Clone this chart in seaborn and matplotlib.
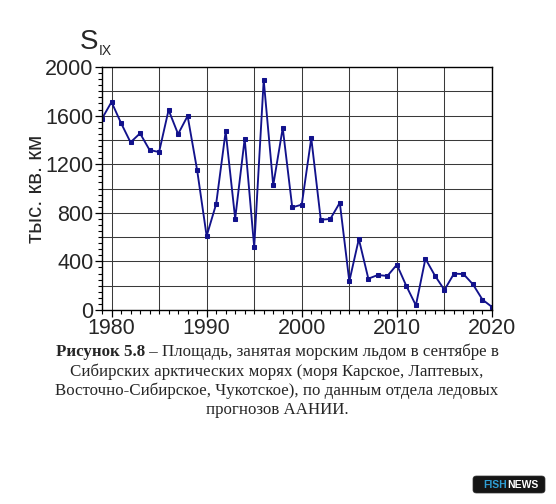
import matplotlib
matplotlib.use("Agg")
import matplotlib.pyplot as plt
from matplotlib.ticker import MultipleLocator, FixedLocator
from matplotlib.patches import FancyBboxPatch
import seaborn as sns
import pandas as pd

# ---- data ----
years = list(range(1979, 2021))
area = [1575, 1712, 1539, 1380, 1454, 1317, 1300, 1646, 1448, 1597,
        1152, 609, 872, 1470, 752, 1410, 518, 1893, 1026, 1498,
        845, 867, 1415, 743, 749, 883, 236, 584, 258, 288,
        280, 373, 197, 38, 422, 283, 165, 299, 296, 211,
        85, 25]
x_ticks = [1980, 1990, 2000, 2010, 2020]
y_ticks = [0, 400, 800, 1200, 1600, 2000]
y_label = "тыс. кв. км"
caption_bold = "Рисунок 5.8"
caption_rest = " – Площадь, занятая морским льдом в сентябре в"
caption_lines = ["Сибирских арктических морях (моря Карское, Лаптевых,",
                 "Восточно-Сибирское, Чукотское), по данным отдела ледовых",
                 "прогнозов ААНИИ."]

df = pd.DataFrame({"year": years, "area": area})

sns.set_style("white")
plt.rcParams['font.family'] = ['Liberation Sans', 'DejaVu Sans']

W, H = 556, 504
fig = plt.figure(figsize=(W / 100, H / 100), dpi=100)
ax = fig.add_axes([102 / W, 1 - 310 / H, (492 - 102) / W, (310 - 67) / H])

line_color = "#12128c"
sns.lineplot(data=df, x="year", y="area", ax=ax, color=line_color,
             linewidth=1.35, marker="s", markersize=3.4,
             markeredgecolor=line_color, markerfacecolor=line_color)

ax.set_xlim(1979, 2020)
ax.set_ylim(0, 2000)

ax.xaxis.set_major_locator(FixedLocator(x_ticks))
ax.xaxis.set_minor_locator(MultipleLocator(1))
ax.yaxis.set_major_locator(FixedLocator(y_ticks))
ax.yaxis.set_minor_locator(MultipleLocator(50))

# grid
for gx in range(1980, 2021, 5):
    ax.axvline(gx, color="#3a3a3a", lw=0.75, zorder=0)
for gy in range(200, 2000, 200):
    ax.axhline(gy, color="#3a3a3a", lw=0.75, zorder=0)

ax.tick_params(axis="both", which="major", direction="out", length=5,
               width=0.9, labelsize=15.5, color="black", pad=1)
ax.tick_params(axis="both", which="minor", direction="out", length=3,
               width=0.8, color="black")
ax.tick_params(bottom=True, left=True, which="both")

for s in ax.spines.values():
    s.set_color("black")
    s.set_linewidth(1.0)

ax.set_xlabel("")
ax.set_ylabel(y_label, fontsize=16)
ax.yaxis.set_label_coords(-0.142, 0.5)

# S_IX title
fig.text(80 / W, 1 - 49 / H, "S", fontsize=20, ha="left", va="baseline")
fig.text(98.5 / W, 1 - 55 / H, "IX", fontsize=10, ha="left", va="baseline")

# caption
cap_size = 12.2
serif = ['Liberation Serif', 'DejaVu Serif']
renderer = fig.canvas.get_renderer()
tb = fig.text(0, 1 - 352 / H, caption_bold, fontsize=cap_size, family=serif,
              weight="bold", ha="left", va="center")
tr = fig.text(0, 1 - 352 / H, caption_rest, fontsize=cap_size, family=serif,
              ha="left", va="center")
wb = tb.get_window_extent(renderer).width
wr = tr.get_window_extent(renderer).width
x0 = 277 - (wb + wr) / 2
tb.set_x(x0 / W)
tr.set_x((x0 + wb) / W)
for i, ln in enumerate(caption_lines):
    fig.text(277 / W, 1 - (371.5 + 19.5 * i) / H, ln, fontsize=cap_size,
             family=serif, ha="center", va="center")

# logo
box = FancyBboxPatch((473 / W, 1 - 493 / H), 72 / W, 17 / H,
                     boxstyle="round,pad=0,rounding_size=0.006",
                     transform=fig.transFigure, facecolor="#151515",
                     edgecolor="#333333", lw=0.5)
fig.patches.append(box)
t1 = fig.text(483 / W, 1 - 484.5 / H, "FISH", fontsize=7.5, weight="bold",
              color="#2f9fd6", ha="left", va="center")
w1 = t1.get_window_extent(renderer).width
fig.text((483 + w1) / W, 1 - 484.5 / H, "NEWS", fontsize=7.5, weight="bold",
         color="white", ha="left", va="center")

fig.savefig("out.png", dpi=100, facecolor="white")
